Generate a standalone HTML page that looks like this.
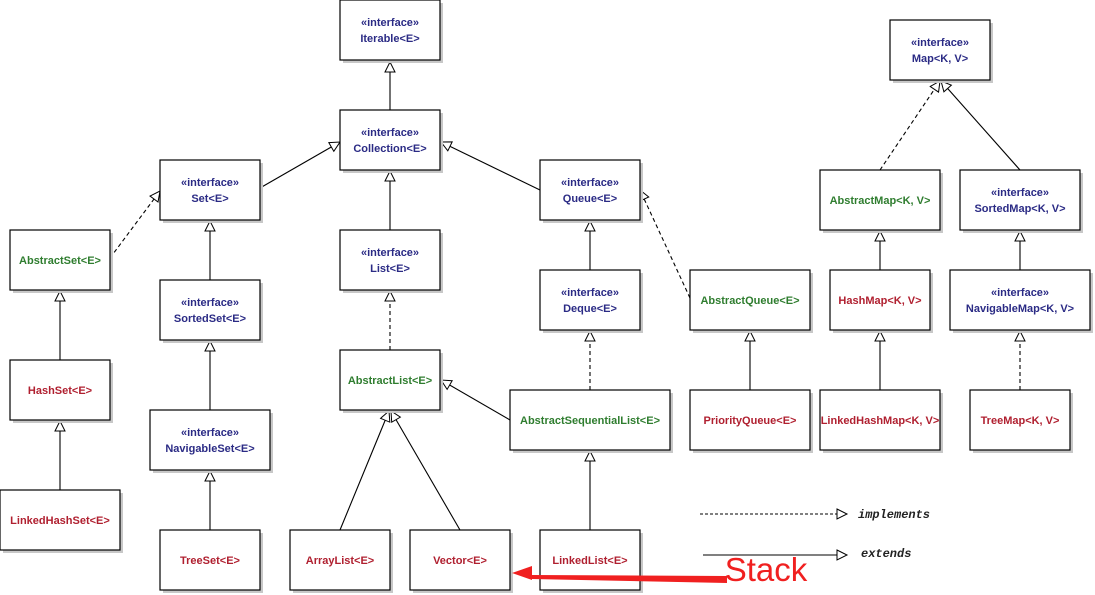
<!DOCTYPE html>
<html><head><meta charset="utf-8"><style>
html,body{margin:0;padding:0;background:#fff;}
svg{display:block;}
text{font-family:"Liberation Sans",sans-serif;font-size:11px;font-weight:bold;text-anchor:middle;}
.i{fill:#2b2b85;}
.g{fill:#2f7d2f;}
.r{fill:#b02030;}
.b{fill:#fff;stroke:#000;stroke-width:1.2;}
.s{fill:#c8c8c8;}
.l{stroke:#000;stroke-width:1.1;fill:none;marker-end:url(#tri);}
.d{stroke-dasharray:4,3;}
</style></head><body>
<svg width="1095" height="595" viewBox="0 0 1095 595" xmlns="http://www.w3.org/2000/svg">
<defs>
<marker id="tri" markerWidth="14" markerHeight="14" refX="11" refY="6" orient="auto" markerUnits="userSpaceOnUse">
<path d="M1,1 L11,6 L1,11 Z" fill="#fff" stroke="#000" stroke-width="1"/>
</marker>
</defs>
<line class="l" x1="390" y1="110" x2="390" y2="62"/>
<line class="l" x1="260" y1="188" x2="340" y2="142"/>
<line class="l" x1="540" y1="190" x2="441" y2="142"/>
<line class="l" x1="390" y1="230" x2="390" y2="171"/>
<line class="l d" x1="110" y1="258" x2="160" y2="191"/>
<line class="l" x1="210" y1="280" x2="210" y2="221"/>
<line class="l" x1="210" y1="410" x2="210" y2="341"/>
<line class="l" x1="210" y1="530" x2="210" y2="471"/>
<line class="l" x1="60" y1="360" x2="60" y2="291"/>
<line class="l" x1="60" y1="490" x2="60" y2="421"/>
<line class="l d" x1="390" y1="350" x2="390" y2="291"/>
<line class="l" x1="340" y1="530" x2="389" y2="411"/>
<line class="l" x1="460" y1="530" x2="391" y2="411"/>
<line class="l" x1="510" y1="420" x2="441" y2="380"/>
<line class="l" x1="590" y1="530" x2="590" y2="451"/>
<line class="l d" x1="590" y1="390" x2="590" y2="331"/>
<line class="l" x1="590" y1="270" x2="590" y2="221"/>
<line class="l d" x1="690" y1="298" x2="640" y2="190"/>
<line class="l" x1="750" y1="390" x2="750" y2="331"/>
<line class="l d" x1="880" y1="170" x2="940" y2="81"/>
<line class="l" x1="1020" y1="170" x2="941" y2="81"/>
<line class="l" x1="880" y1="270" x2="880" y2="231"/>
<line class="l" x1="1020" y1="270" x2="1020" y2="231"/>
<line class="l" x1="880" y1="390" x2="880" y2="331"/>
<line class="l d" x1="1020" y1="390" x2="1020" y2="331"/>
<g>
<rect class="s" x="343" y="3" width="100" height="60"/><rect class="b" x="340" y="0" width="100" height="60"/>
<text class="i" x="390" y="26">«interface»</text><text class="i" x="390" y="42">Iterable&lt;E&gt;</text>
<rect class="s" x="343" y="113" width="100" height="60"/><rect class="b" x="340" y="110" width="100" height="60"/>
<text class="i" x="390" y="136">«interface»</text><text class="i" x="390" y="152">Collection&lt;E&gt;</text>
<rect class="s" x="163" y="163" width="100" height="60"/><rect class="b" x="160" y="160" width="100" height="60"/>
<text class="i" x="210" y="186">«interface»</text><text class="i" x="210" y="202">Set&lt;E&gt;</text>
<rect class="s" x="543" y="163" width="100" height="60"/><rect class="b" x="540" y="160" width="100" height="60"/>
<text class="i" x="590" y="186">«interface»</text><text class="i" x="590" y="202">Queue&lt;E&gt;</text>
<rect class="s" x="343" y="233" width="100" height="60"/><rect class="b" x="340" y="230" width="100" height="60"/>
<text class="i" x="390" y="256">«interface»</text><text class="i" x="390" y="272">List&lt;E&gt;</text>
<rect class="s" x="13" y="233" width="100" height="60"/><rect class="b" x="10" y="230" width="100" height="60"/>
<text class="g" x="60" y="264">AbstractSet&lt;E&gt;</text>
<rect class="s" x="163" y="283" width="100" height="60"/><rect class="b" x="160" y="280" width="100" height="60"/>
<text class="i" x="210" y="306">«interface»</text><text class="i" x="210" y="322">SortedSet&lt;E&gt;</text>
<rect class="s" x="543" y="273" width="100" height="60"/><rect class="b" x="540" y="270" width="100" height="60"/>
<text class="i" x="590" y="296">«interface»</text><text class="i" x="590" y="312">Deque&lt;E&gt;</text>
<rect class="s" x="693" y="273" width="120" height="60"/><rect class="b" x="690" y="270" width="120" height="60"/>
<text class="g" x="750" y="304">AbstractQueue&lt;E&gt;</text>
<rect class="s" x="343" y="353" width="100" height="60"/><rect class="b" x="340" y="350" width="100" height="60"/>
<text class="g" x="390" y="384">AbstractList&lt;E&gt;</text>
<rect class="s" x="13" y="363" width="100" height="60"/><rect class="b" x="10" y="360" width="100" height="60"/>
<text class="r" x="60" y="394">HashSet&lt;E&gt;</text>
<rect class="s" x="153" y="413" width="120" height="60"/><rect class="b" x="150" y="410" width="120" height="60"/>
<text class="i" x="210" y="436">«interface»</text><text class="i" x="210" y="452">NavigableSet&lt;E&gt;</text>
<rect class="s" x="513" y="393" width="160" height="60"/><rect class="b" x="510" y="390" width="160" height="60"/>
<text class="g" x="590" y="424">AbstractSequentialList&lt;E&gt;</text>
<rect class="s" x="693" y="393" width="120" height="60"/><rect class="b" x="690" y="390" width="120" height="60"/>
<text class="r" x="750" y="424">PriorityQueue&lt;E&gt;</text>
<rect class="s" x="3" y="493" width="120" height="60"/><rect class="b" x="0" y="490" width="120" height="60"/>
<text class="r" x="60" y="524">LinkedHashSet&lt;E&gt;</text>
<rect class="s" x="163" y="533" width="100" height="60"/><rect class="b" x="160" y="530" width="100" height="60"/>
<text class="r" x="210" y="564">TreeSet&lt;E&gt;</text>
<rect class="s" x="293" y="533" width="100" height="60"/><rect class="b" x="290" y="530" width="100" height="60"/>
<text class="r" x="340" y="564">ArrayList&lt;E&gt;</text>
<rect class="s" x="413" y="533" width="100" height="60"/><rect class="b" x="410" y="530" width="100" height="60"/>
<text class="r" x="460" y="564">Vector&lt;E&gt;</text>
<rect class="s" x="543" y="533" width="100" height="60"/><rect class="b" x="540" y="530" width="100" height="60"/>
<text class="r" x="590" y="564">LinkedList&lt;E&gt;</text>
<rect class="s" x="893" y="23" width="100" height="60"/><rect class="b" x="890" y="20" width="100" height="60"/>
<text class="i" x="940" y="46">«interface»</text><text class="i" x="940" y="62">Map&lt;K, V&gt;</text>
<rect class="s" x="823" y="173" width="120" height="60"/><rect class="b" x="820" y="170" width="120" height="60"/>
<text class="g" x="880" y="204">AbstractMap&lt;K, V&gt;</text>
<rect class="s" x="963" y="173" width="120" height="60"/><rect class="b" x="960" y="170" width="120" height="60"/>
<text class="i" x="1020" y="196">«interface»</text><text class="i" x="1020" y="212">SortedMap&lt;K, V&gt;</text>
<rect class="s" x="833" y="273" width="100" height="60"/><rect class="b" x="830" y="270" width="100" height="60"/>
<text class="r" x="880" y="304">HashMap&lt;K, V&gt;</text>
<rect class="s" x="953" y="273" width="140" height="60"/><rect class="b" x="950" y="270" width="140" height="60"/>
<text class="i" x="1020" y="296">«interface»</text><text class="i" x="1020" y="312">NavigableMap&lt;K, V&gt;</text>
<rect class="s" x="823" y="393" width="120" height="60"/><rect class="b" x="820" y="390" width="120" height="60"/>
<text class="r" x="880" y="424">LinkedHashMap&lt;K, V&gt;</text>
<rect class="s" x="973" y="393" width="100" height="60"/><rect class="b" x="970" y="390" width="100" height="60"/>
<text class="r" x="1020" y="424">TreeMap&lt;K, V&gt;</text>
</g>
<line class="l" x1="700" y1="514" x2="847" y2="514" stroke-dasharray="3,2"/>
<line class="l" x1="703" y1="555" x2="847" y2="555"/>
<text x="858" y="518" style="font-family:'Liberation Mono',monospace;font-style:italic;font-weight:bold;font-size:12px;text-anchor:start;fill:#222">implements</text>
<text x="861" y="557" style="font-family:'Liberation Mono',monospace;font-style:italic;font-weight:bold;font-size:12px;text-anchor:start;fill:#222">extends</text>
<polygon points="727,576 532,575 532,566 512,573 532,580 532,579 727,583" fill="#f02020"/>
<text x="766" y="581" style="font-family:'Liberation Sans',sans-serif;font-weight:normal;font-size:33px;fill:#f02020">Stack</text>
</svg>
</body></html>
